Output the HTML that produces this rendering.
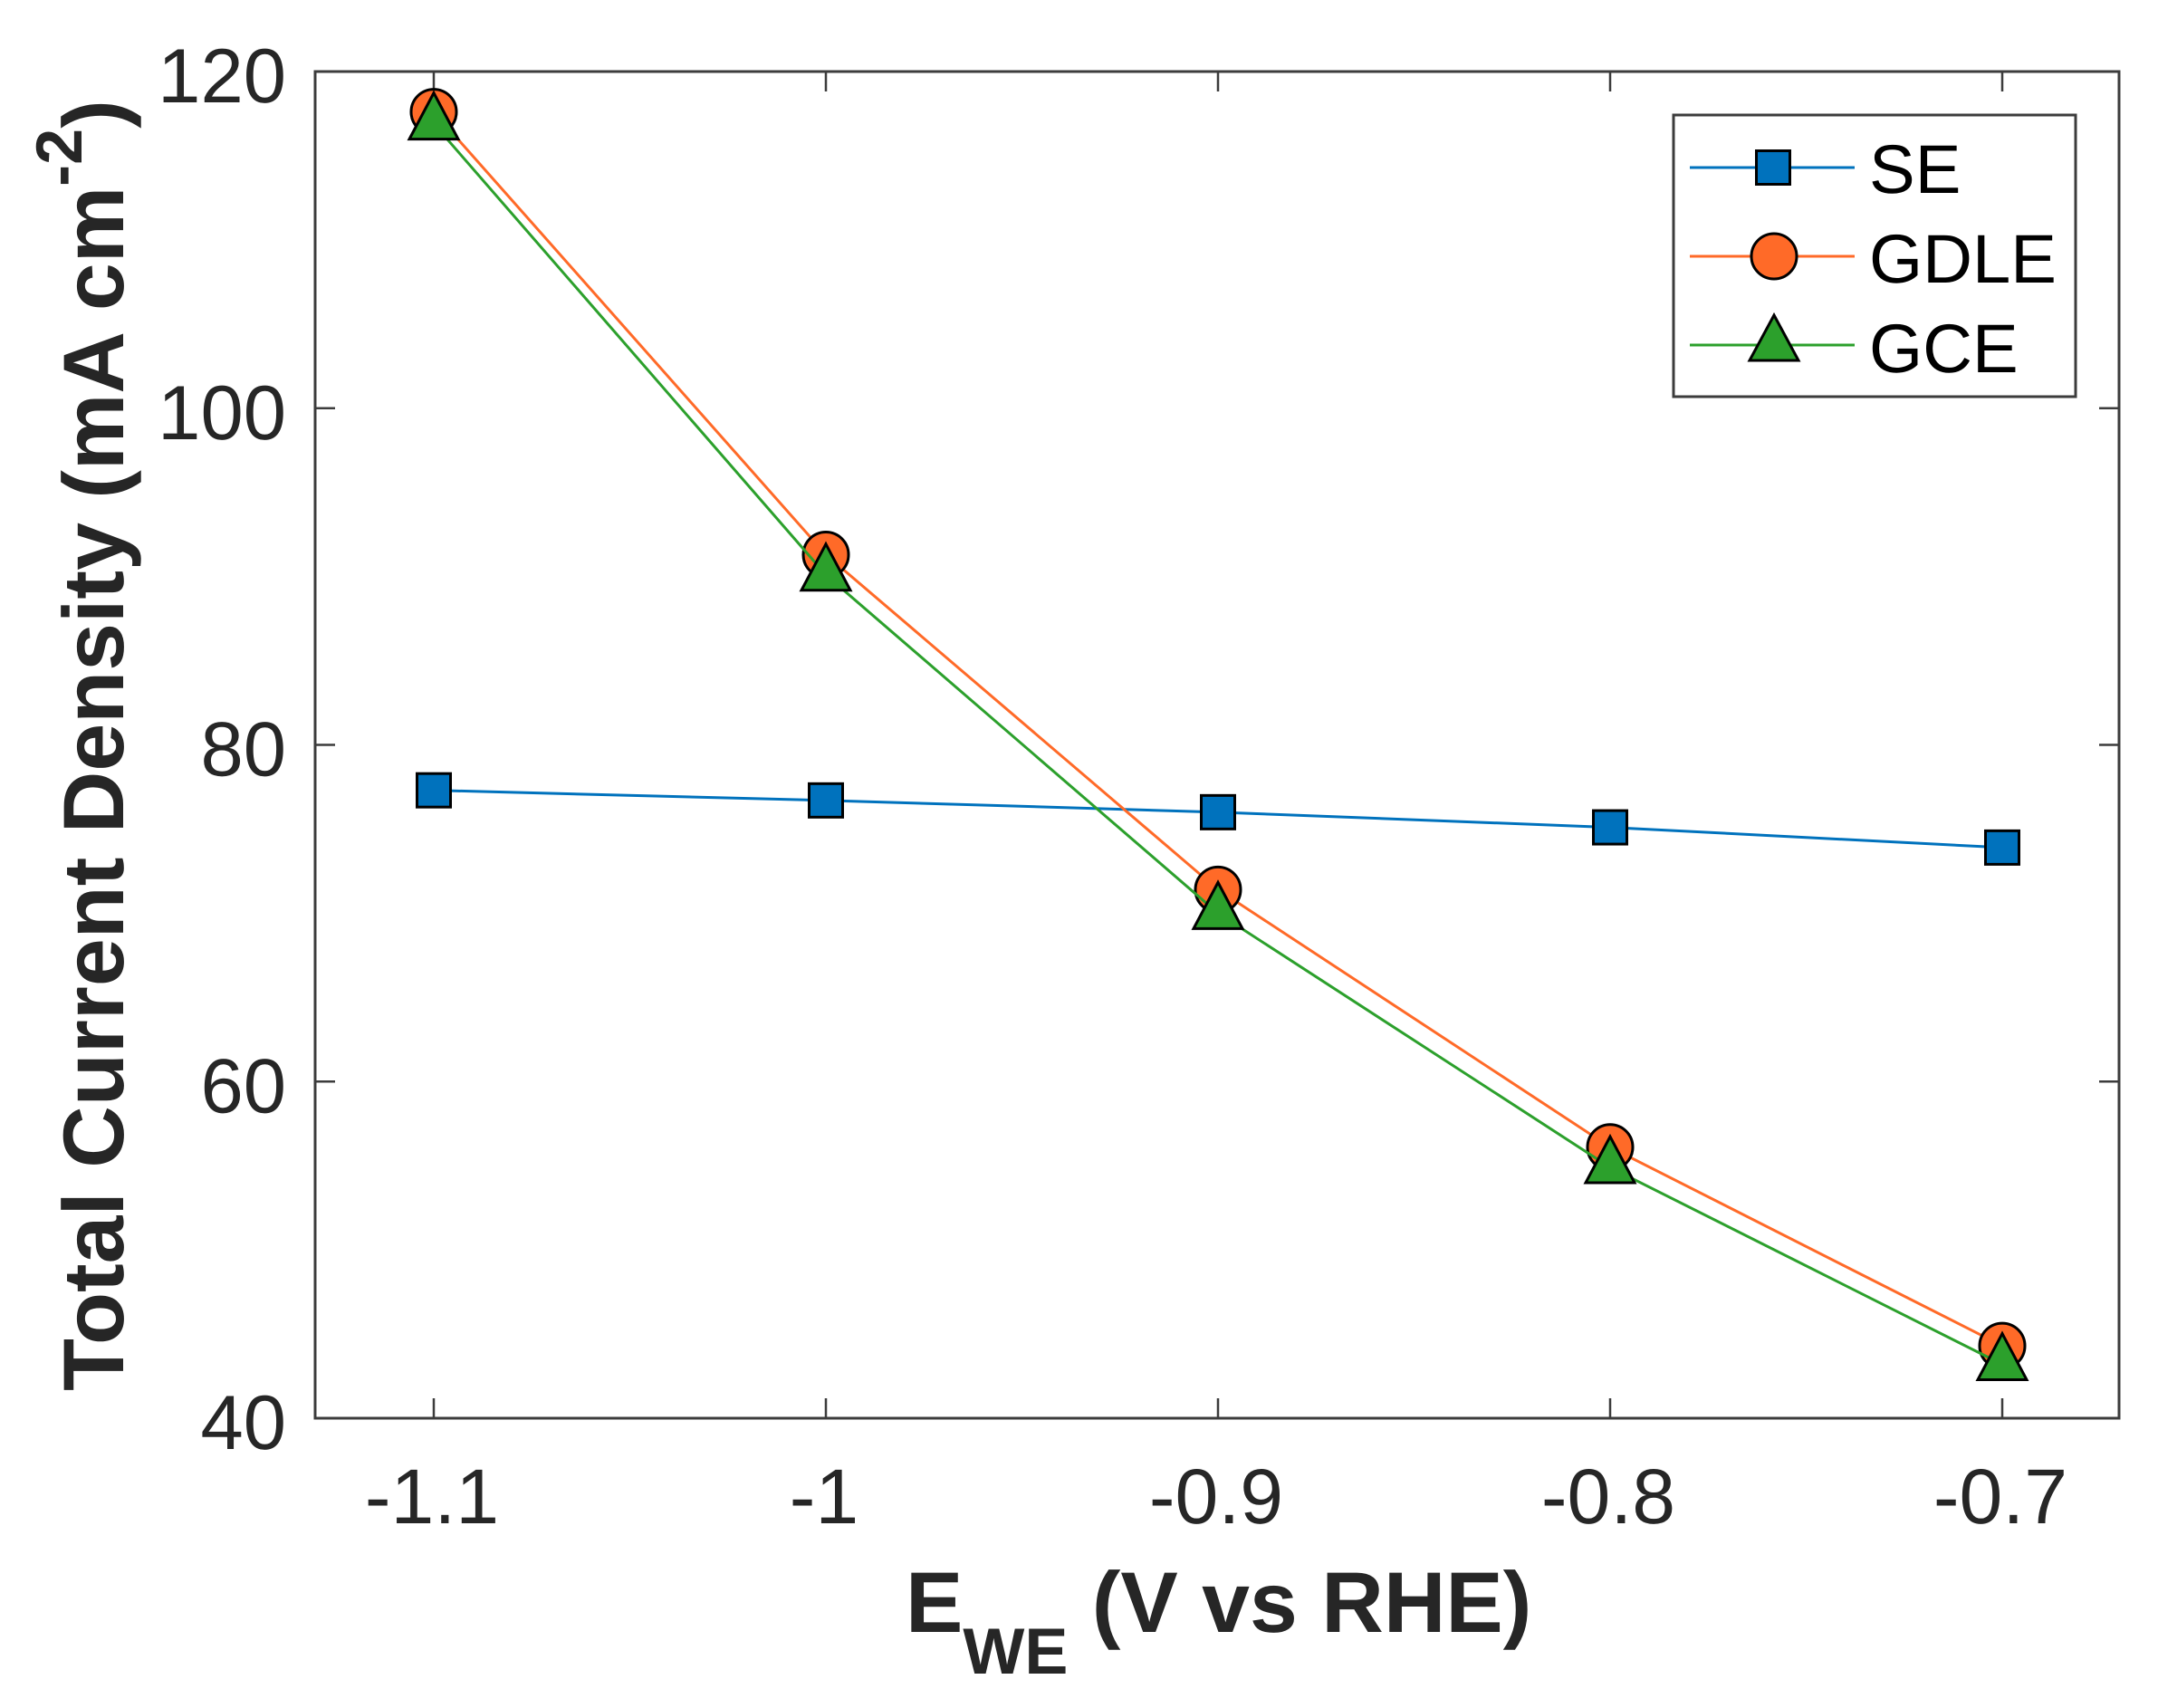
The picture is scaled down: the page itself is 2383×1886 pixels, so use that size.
<!DOCTYPE html>
<html lang="en">
<head>
<meta charset="utf-8">
<title>Total Current Density vs Potential</title>
<style>
html,body{margin:0;padding:0;background:#fff;}
svg{display:block;font-family:"Liberation Sans",Arial,sans-serif;text-rendering:geometricPrecision;}
</style>
</head>
<body>
<svg id="chart" xmlns="http://www.w3.org/2000/svg" width="2383" height="1886" viewBox="0 0 2383 1886">
  <rect x="0" y="0" width="2383" height="1886" fill="#fff"/>
  <g id="ticks"></g>
  <g id="tick-labels"></g>
  <g id="series"></g>
  <rect x="348" y="79" width="1992" height="1487" fill="none" stroke="#3c3c3c" stroke-width="3"/>
  <text transform="translate(136,1536) rotate(-90)" font-size="95" font-weight="700" fill="#262626">Total Current Density (mA cm<tspan font-size="72" dy="-46">-2</tspan><tspan dy="46">)</tspan></text>
  <text x="1000" y="1802" font-size="95" font-weight="700" fill="#262626">E<tspan font-size="72" dy="46">WE</tspan><tspan dy="-46"> (V vs RHE)</tspan></text>
  <g>
    <rect x="1848" y="127" width="444" height="311" fill="#fff" stroke="#3c3c3c" stroke-width="3"/>
    <g>
      <line x1="1866" y1="185" x2="2048" y2="185" stroke="#0072bd" stroke-width="3"/>
      <rect x="1939.5" y="166.5" width="37" height="37" fill="#0072bd" stroke="#000" stroke-width="3"/>
      <text x="2064" y="213" font-size="76" fill="#000">SE</text>
    </g>
    <g>
      <line x1="1866" y1="283" x2="2048" y2="283" stroke="#ff6a28" stroke-width="3"/>
      <circle cx="1959" cy="283" r="25" fill="#ff6a28" stroke="#000" stroke-width="3"/>
      <text x="2064" y="312" font-size="76" fill="#000">GDLE</text>
    </g>
    <g>
      <line x1="1866" y1="381" x2="2048" y2="381" stroke="#2ca02c" stroke-width="3"/>
      <polygon points="1959,348 1986,398 1932,398" fill="#2ca02c" stroke="#000" stroke-width="3"/>
      <text x="2064" y="411" font-size="76" fill="#000">GCE</text>
    </g>
  </g>
</svg>
<script>
const potentials = [-1.1, -1.0, -0.9, -0.8, -0.7];
const seValues = [77.3, 76.7, 76.0, 75.1, 73.9];
const gdleValues = [117.6, 91.3, 71.4, 56.1, 44.3];
const gceValues = [116.9, 90.1, 70.0, 54.9, 43.2];
const xTickValues = [-1.1, -1.0, -0.9, -0.8, -0.7];
const xTickLabels = ['-1.1', '-1', '-0.9', '-0.8', '-0.7'];
const yTickValues = [40, 60, 80, 100, 120];
const yTickLabels = ['40', '60', '80', '100', '120'];

const NS = 'http://www.w3.org/2000/svg';
const plot = { left: 348, right: 2340, top: 79, bottom: 1566 };
const xAnchor = { v: -1.1, px: 479, pxPerUnit: 4330 };
function xScale(v) { return xAnchor.px + (v - xAnchor.v) * xAnchor.pxPerUnit; }
function yScale(v) { return plot.bottom - (v - 40) * (plot.bottom - plot.top) / 80; }

function make(tag, attrs, parent) {
  const el = document.createElementNS(NS, tag);
  Object.keys(attrs).forEach(function (k) { el.setAttribute(k, attrs[k]); });
  parent.appendChild(el);
  return el;
}

const tickGroup = document.getElementById('ticks');
const labelGroup = document.getElementById('tick-labels');
const seriesGroup = document.getElementById('series');
const tickLen = 22;
const tickStyle = { stroke: '#3c3c3c', 'stroke-width': 2.5 };

xTickValues.forEach(function (v, i) {
  const x = xScale(v);
  const bottomTick = make('line', Object.assign({ x1: x, x2: x, y1: plot.bottom, y2: plot.bottom - tickLen }, tickStyle), tickGroup);
  
  
  const topTick = make('line', Object.assign({ x1: x, x2: x, y1: plot.top, y2: plot.top + tickLen }, tickStyle), tickGroup);
  
  
  const label = make('text', { x: x - 2, y: 1682, 'text-anchor': 'middle', 'font-size': 86, fill: '#262626' }, labelGroup);
  
  
  label.textContent = xTickLabels[i];
});

yTickValues.forEach(function (v, i) {
  const y = yScale(v);
  const leftTick = make('line', Object.assign({ x1: plot.left, x2: plot.left + tickLen, y1: y, y2: y }, tickStyle), tickGroup);
  
  
  const rightTick = make('line', Object.assign({ x1: plot.right, x2: plot.right - tickLen, y1: y, y2: y }, tickStyle), tickGroup);
  
  
  const label = make('text', { x: 316, y: y + 34, 'text-anchor': 'end', 'font-size': 85, fill: '#262626' }, labelGroup);
  
  
  label.textContent = yTickLabels[i];
});

function seriesLine(values, color, name) {
  const pts = values.map(function (v, i) { return xScale(potentials[i]) + ',' + yScale(v); }).join(' ');
  const line = make('polyline', { points: pts, fill: 'none', stroke: color, 'stroke-width': 3 }, seriesGroup);
  
  
}

function squareMarkers(values, color, name) {
  values.forEach(function (v, i) {
    const cx = xScale(potentials[i]);
    const cy = yScale(v);
    const m = make('rect', { x: cx - 18.5, y: cy - 18.5, width: 37, height: 37, fill: color, stroke: '#000', 'stroke-width': 3 }, seriesGroup);
    
    
  });
}

function circleMarkers(values, color, name) {
  values.forEach(function (v, i) {
    const m = make('circle', { cx: xScale(potentials[i]), cy: yScale(v), r: 25, fill: color, stroke: '#000', 'stroke-width': 3 }, seriesGroup);
    
    
  });
}

function triangleMarkers(values, color, name) {
  values.forEach(function (v, i) {
    const cx = xScale(potentials[i]);
    const cy = yScale(v);
    const pts = cx + ',' + (cy - 34) + ' ' + (cx + 27) + ',' + (cy + 17) + ' ' + (cx - 27) + ',' + (cy + 17);
    const m = make('polygon', { points: pts, fill: color, stroke: '#000', 'stroke-width': 3 }, seriesGroup);
    
    
  });
}

seriesLine(seValues, '#0072bd', 'se-line');
squareMarkers(seValues, '#0072bd', 'se-point');
seriesLine(gdleValues, '#ff6a28', 'gdle-line');
circleMarkers(gdleValues, '#ff6a28', 'gdle-point');
seriesLine(gceValues, '#2ca02c', 'gce-line');
triangleMarkers(gceValues, '#2ca02c', 'gce-point');
</script>
</body>
</html>
